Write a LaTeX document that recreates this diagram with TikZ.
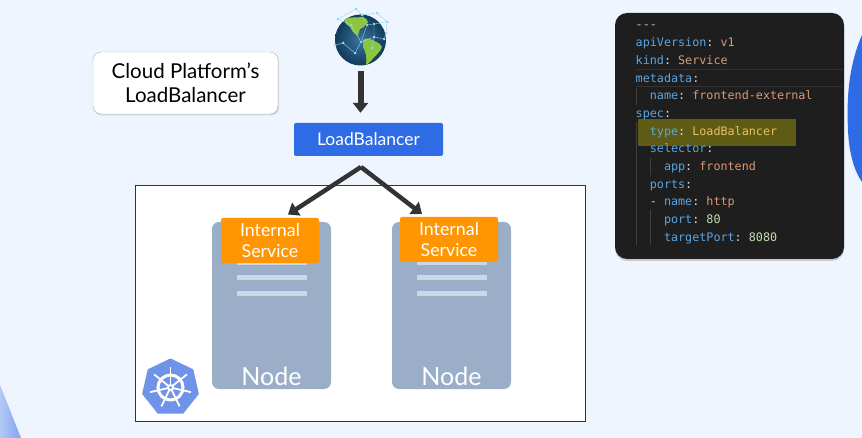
\documentclass[tikz,border=0pt]{standalone}
\usepackage{fontspec}
\setmainfont{Lato}
\setmonofont{DejaVu Sans Mono}
\usetikzlibrary{arrows.meta,shapes.geometric,shadows}
\definecolor{pagebg}{HTML}{EFF5FF}
\definecolor{lbblue}{HTML}{2F6BE4}
\definecolor{svcorange}{HTML}{FF9500}
\definecolor{srvgrey}{HTML}{9AAEC8}
\definecolor{srvline}{HTML}{CBD7E5}
\definecolor{arrowdark}{HTML}{333333}
\definecolor{kubeblue}{HTML}{6F93E8}
\definecolor{codebg}{HTML}{1E1E1E}
\definecolor{codeguide}{HTML}{404040}
\definecolor{codehl}{HTML}{5E5C14}
\definecolor{ckey}{HTML}{5AA5E2}
\definecolor{cstr}{HTML}{D99878}
\definecolor{cnum}{HTML}{BFDDB0}
\definecolor{cyel}{HTML}{EBBE5E}
\definecolor{ocean}{HTML}{1A5A8C}
\definecolor{land}{HTML}{8CC63F}
\definecolor{netblue}{HTML}{8FD8F0}
\newcommand{\ky}[1]{\textcolor{ckey}{#1}\textcolor{white!85!black}{:}}
\newcommand{\vl}[1]{\textcolor{cstr}{#1}}
\newcommand{\nm}[1]{\textcolor{cnum}{#1}}
\tikzset{
	srvbox/.style={fill=srvgrey, rounded corners=7pt, minimum width=119pt, minimum height=167pt, inner sep=0pt},
	svcbox/.style={fill=svcorange, rounded corners=2pt, minimum width=98pt, minimum height=45pt, inner sep=0pt,
		text=white, align=center, font=\fontsize{17.8}{20.5}\selectfont},
	lbbox/.style={fill=lbblue, rounded corners=2pt, minimum width=149pt, minimum height=33pt, inner sep=0pt,
		text=white, font=\fontsize{17.5}{20}\selectfont},
	flow/.style={draw=arrowdark, line width=4.5pt, -{Triangle[length=10pt,width=15pt]}},
	codeline/.style={anchor=base west, inner sep=0pt, font=\ttfamily\fontsize{11.75}{14}\selectfont},
	guide/.style={draw=codeguide, line width=.8pt},
	netdot/.style={circle, fill=netblue, inner sep=0pt, minimum size=3pt},
}
\begin{document}
\begin{tikzpicture}[x=1pt, y=-1pt]
	\useasboundingbox (0,0) rectangle (862,438);
	\fill[pagebg] (0,0) rectangle (862,438);
	% corner shapes
	\shade[left color=lbblue!32!pagebg, right color=lbblue!58!pagebg] (0,385) -- (21,438) -- (0,438) -- cycle;
	\fill[lbblue] (862,35) .. controls (851,60) and (846,90) .. (848,130) .. controls (849,155) and (855,172) .. (862,182) -- cycle;
	% cluster frame
	\node[draw=arrowdark, fill=white, line width=.8pt, minimum width=450pt, minimum height=236pt, inner sep=0pt] (cluster) at (360,303) {};
	% cloud label
	\node[draw=black!30, fill=white, rounded corners=8pt, minimum width=185pt, minimum height=62pt, inner sep=0pt, align=center,
		font=\fontsize{20.5}{24}\selectfont, drop shadow={shadow xshift=1pt, shadow yshift=-1.5pt, opacity=.25}] (cloud) at (185.5,83) {Cloud Platform's\\LoadBalancer};
	% globe
	\shade[inner color=ocean!85!white, outer color=ocean!65!black] (360.5,40) circle (25.5);
	\node[circle, inner sep=0pt, minimum size=51pt] (globe) at (360.5,40) {};
	\fill[land] (344,20) .. controls (350,16) and (358,18) .. (362,17) .. controls (366,18) and (368,20) .. (368,22)
		.. controls (365,25) and (364,28) .. (360,29) .. controls (358,32) and (359,34) .. (358,36)
		.. controls (354,34) and (352,31) .. (350,27) .. controls (347,26) and (345,23) .. (344,20) -- cycle;
	\fill[land] (363,40) .. controls (367,37) and (371,39) .. (374,41) .. controls (378,42) and (381,45) .. (382,47)
		.. controls (380,53) and (374,56) .. (372,60) .. controls (370,62) and (368,64) .. (366,65)
		.. controls (367,58) and (366,52) .. (363,47) -- cycle;
	% globe network
	\foreach \gx/\gy [count=\index] in {356/9,338/19,362/15,377/13,387/22,374/24,367/25,384/39,374/37,361/42,343/43,335/45,355/53,386/33,351/25,372/48}
	{
		\node[netdot] (net_\index) at (\gx,\gy) {};
	}
	\draw[netblue, line width=.4pt] (net_2) -- (net_1) -- (net_3) -- (net_4) -- (net_5) -- (net_6) -- (net_7) -- (net_3);
	\draw[netblue, line width=.4pt] (net_12) -- (net_11) -- (net_13) -- (net_10) -- (net_15) -- (net_2);
	\draw[netblue, line width=.4pt] (net_6) -- (net_9) -- (net_8) -- (net_14) -- (net_5);
	\draw[netblue, line width=.4pt] (net_7) -- (net_10) -- (net_9) -- (net_16);
	% load balancer
	\node[lbbox] (lb) at (368.5,139.5) {LoadBalancer};
	\draw[flow, line width=6pt, shorten <=5pt, shorten >=10pt] (globe.south) -- (globe.south |- lb.north);
	% nodes with their services
	\foreach \cx/\ox/\oy [count=\index] in {271.5/270/240.5, 451.5/449/239.5}
	{
		\node[srvbox] (srv_\index) at (\cx,305.5) {};
		\foreach \ly in {263,278,294}
		{
			\fill[srvline] (\cx-35,\ly-2.5) rectangle (\cx+35,\ly+2.5);
		}
		\node[svcbox] (svc_\index) at (\ox,\oy) {Internal\\Service};
		\node[text=white, inner sep=0pt, font=\fontsize{25}{28}\selectfont] (srvname_\index) at (\cx,376) {Node};
	}
	% split arrows
	\coordinate (apex) at (361,167);
	\coordinate (tip_1) at (288,214.5);
	\coordinate (tip_2) at (422,214);
	\draw[flow] (apex) -- (tip_1);
	\draw[flow] (apex) -- (tip_2);
	% kubernetes badge
	\node[regular polygon, regular polygon sides=7, fill=kubeblue, draw=kubeblue, line width=2pt, line join=round, inner sep=0pt, minimum size=56pt] (kube) at (170.5,387.5) {};
	\draw[white, line width=3pt] (kube.center) circle (12.5);
	\foreach \k in {0,...,6}
	{
		\draw[white, line width=1.8pt] (kube.center) -- ++({sin(\k*360/7)*21},{-cos(\k*360/7)*21});
	}
	\fill[white] (kube.center) circle (3.5);
	\fill[kubeblue] (kube.center) circle (1.5);
	% yaml panel
	\node[fill=codebg, rounded corners=12pt, minimum width=229pt, minimum height=246pt, inner sep=0pt,
		drop shadow={shadow xshift=0pt, shadow yshift=-2pt, opacity=.35}] (panel) at (729.5,136) {};
	\draw[codeguide!60!codebg, line width=.6pt] (636,69.5) -- (843,69.5);
	\draw[codeguide!60!codebg, line width=.6pt] (636,86.5) -- (843,86.5);
	\fill[codehl] (638,119) rectangle (796,146);
	\def\codetext {
		{\textcolor{white!75!black}{---}},
		{\ky{apiVersion} \vl{v1}},
		{\ky{kind} \vl{Service}},
		{\ky{metadata}},
		{\ \ \ky{name} \vl{frontend-external}},
		{\ky{spec}},
		{\ \ \ky{type} \textcolor{cyel}{LoadBalancer}},
		{\ \ \ky{selector}},
		{\ \ \ \ \ky{app} \vl{frontend}},
		{\ \ \ky{ports}},
		{\ \ \textcolor{white!80!black}{-} \ky{name} \vl{http}},
		{\ \ \ \ \ky{port} \nm{80}},
		{\ \ \ \ \ky{targetPort} \nm{8080}}
	}
	\foreach \codeitem [count=\index] in \codetext
	{
		\node[codeline] (code_\index) at (635.5,{29+17.7*(\index-1)}) {\codeitem};
	}
	% indent guides
	\draw[guide] (636,88) -- (636,105);
	\draw[guide] (636,122) -- (636,245);
	\draw[guide] (650,158) -- (650,175);
	\draw[guide] (650,210) -- (650,245);
\end{tikzpicture}
\end{document}
